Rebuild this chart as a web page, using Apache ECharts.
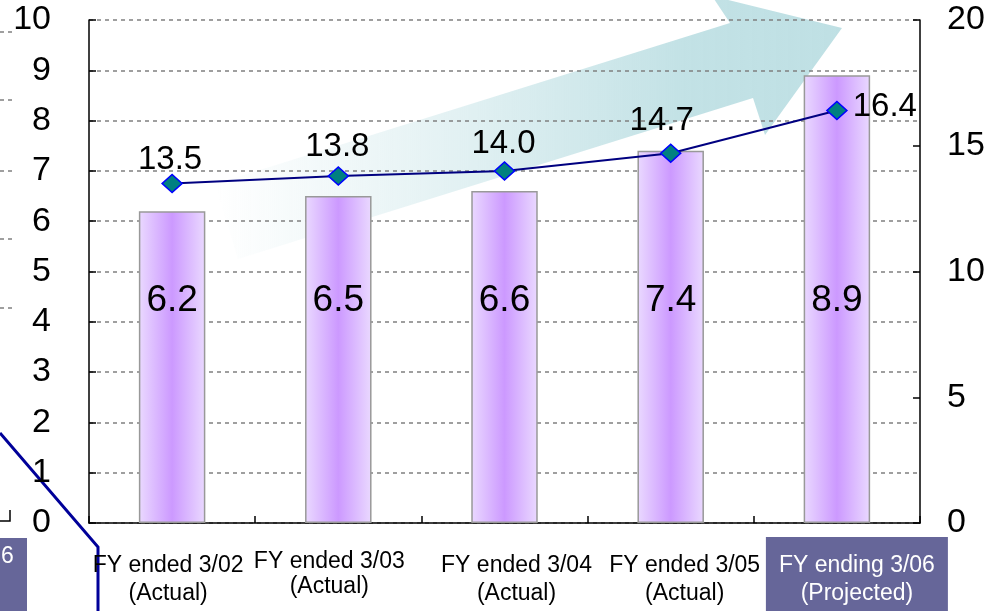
<!DOCTYPE html>
<html><head><meta charset="utf-8">
<script src="https://cdn.jsdelivr.net/npm/echarts@6/dist/echarts.min.js"></script>
<style>html,body{margin:0;padding:0;background:#fff}#c{width:992px;height:611px}</style>
</head><body><div id="c"></div>
<script>
var categories = ['FY ended 3/02\n(Actual)', 'FY ended 3/03\n(Actual)', 'FY ended 3/04\n(Actual)', 'FY ended 3/05\n(Actual)', 'FY ending 3/06\n(Projected)'];
var barValues = [6.2, 6.5, 6.6, 7.4, 8.9];
var lineValues = [13.5, 13.8, 14.0, 14.7, 16.4];
var leftTicks = [0, 10, 1];
var rightTicks = [0, 20, 5];

var FONT = '"Liberation Sans", Arial, sans-serif';
var chart = echarts.init(document.getElementById('c'), null, {renderer: 'canvas'});

// per-category horizontal label shifts (pixels) and line-label offsets
var labelShift = [-4, -9, 12, 14, 20];
var lineLabelOffset = [[-2, 8], [-1, 2], [-1, 4], [-9, -1]];

var catData = categories.map(function (c, i) {
  var s = labelShift[i];
  var pad = s >= 0 ? [3, 0, 0, 2 * s] : [3, -2 * s, 0, 0];
  var item = {value: c, textStyle: {padding: pad}};
  if (i === 1) { item.textStyle.padding = [0, 18, 0, 0]; item.textStyle.lineHeight = 25; }
  if (i === 4) { item.textStyle.color = '#ffffff'; }
  return item;
});

var baseGraphic = [
  {type: 'polygon', z: -10, silent: true,
   shape: {points: [[215,184],[730,23],[712,-4],[842,28],[765,135],[753,98],[238,259]]},
   style: {fill: new echarts.graphic.LinearGradient(0, 0, 1, 0, [
     {offset: 0, color: 'rgba(191,224,228,0)'},
     {offset: 0.35, color: 'rgba(191,224,228,0.4)'},
     {offset: 0.75, color: 'rgba(191,224,228,0.95)'},
     {offset: 1, color: 'rgba(191,224,228,1)'}])}},
  // fragments of neighbouring slide at left edge
  {type: 'polyline', silent: true, shape: {points: [[0,433],[98,547],[98,611]]}, style: {stroke: '#000099', lineWidth: 3, fill: null}},
  {type: 'polyline', silent: true, shape: {points: [[0,521],[10,521],[10,510]]}, style: {stroke: '#000', lineWidth: 1.5, fill: null}},
  {type: 'rect', silent: true, shape: {x: 0, y: 538, width: 27, height: 73}, style: {fill: '#666699'}},
  {type: 'text', silent: true, style: {x: 1, y: 545, text: '6', fill: '#fff', font: '23px ' + FONT}},
  {type: 'line', silent: true, shape: {x1: 0, y1: 32, x2: 14, y2: 32}, style: {stroke: '#808080', lineDash: [4, 4], lineWidth: 1.5}},
  {type: 'line', silent: true, shape: {x1: 0, y1: 100, x2: 14, y2: 100}, style: {stroke: '#808080', lineDash: [4, 4], lineWidth: 1.5}},
  {type: 'line', silent: true, shape: {x1: 0, y1: 171, x2: 14, y2: 171}, style: {stroke: '#808080', lineDash: [4, 4], lineWidth: 1.5}},
  {type: 'line', silent: true, shape: {x1: 0, y1: 239, x2: 14, y2: 239}, style: {stroke: '#808080', lineDash: [4, 4], lineWidth: 1.5}},
  {type: 'line', silent: true, shape: {x1: 0, y1: 308, x2: 14, y2: 308}, style: {stroke: '#808080', lineDash: [4, 4], lineWidth: 1.5}}
];

var option = {
  animation: false,
  grid: {left: 89, right: 72, top: 20, bottom: 88, containLabel: false, outerBoundsMode: 'none'},
  graphic: baseGraphic,
  xAxis: {
    type: 'category', data: catData, boundaryGap: true,
    axisLine: {lineStyle: {color: '#000', width: 1.5}},
    axisTick: {show: true, inside: true, length: 7, alignWithLabel: false, lineStyle: {color: '#000', width: 1.5}},
    axisLabel: {color: '#000', fontFamily: FONT, fontSize: 23, lineHeight: 28, margin: 26, interval: 0}
  },
  yAxis: [
    {type: 'value', min: leftTicks[0], max: leftTicks[1], interval: leftTicks[2], position: 'left',
     axisLine: {show: true, lineStyle: {color: '#000', width: 1.5}},
     axisTick: {show: true, inside: true, length: 7, lineStyle: {color: '#000', width: 1.5}},
     axisLabel: {color: '#000', fontFamily: FONT, fontSize: 34, margin: 38},
     splitLine: {show: true, lineStyle: {color: '#808080', type: [4, 4], width: 1.5}}},
    {type: 'value', min: rightTicks[0], max: rightTicks[1], interval: rightTicks[2], position: 'right',
     axisLine: {show: true, lineStyle: {color: '#000', width: 1.5}},
     axisTick: {show: true, inside: true, length: 7, lineStyle: {color: '#000', width: 1.5}},
     axisLabel: {color: '#000', fontFamily: FONT, fontSize: 34, margin: 27},
     splitLine: {show: false}}
  ],
  series: [
    {type: 'bar', yAxisIndex: 0, data: barValues, barWidth: '40%', z: 2,
     itemStyle: {borderColor: '#999999', borderWidth: 1.5,
       color: new echarts.graphic.LinearGradient(0, 0, 1, 0, [
         {offset: 0, color: '#ead9ff'},
         {offset: 0.5, color: '#cc99ff'},
         {offset: 1, color: '#ead9ff'}])},
     label: {show: true, position: 'insideBottom', distance: 204, color: '#000', fontFamily: FONT, fontSize: 37,
       formatter: function (p) { return p.value.toFixed(1); }}},
    {type: 'line', yAxisIndex: 1, z: 5,
     symbol: 'diamond', symbolSize: [20, 18],
     lineStyle: {color: '#000080', width: 2},
     itemStyle: {color: '#008080', borderColor: '#0000ff', borderWidth: 1.5},
     label: {show: true, position: 'top', distance: 5, color: '#000', fontFamily: FONT, fontSize: 33,
       formatter: function (p) { return p.value.toFixed(1); }},
     data: lineValues.map(function (v, i) {
       if (i === 4) return {value: v, label: {position: 'right', distance: 5, offset: [0, -4]}};
       return {value: v, label: {offset: lineLabelOffset[i]}};
     })}
  ]
};
chart.setOption(option);

// highlight box behind the projected-year category label
var cx = chart.convertToPixel({xAxisIndex: 0}, categories[4]) + labelShift[4];
var axisY = chart.convertToPixel({yAxisIndex: 0}, 0);
chart.setOption({graphic: baseGraphic.concat([
  {type: 'rect', z: -5, silent: true, shape: {x: cx - 91, y: axisY + 14, width: 182, height: 611 - axisY - 14},
   style: {fill: '#666699'}}
])});
</script></body></html>
